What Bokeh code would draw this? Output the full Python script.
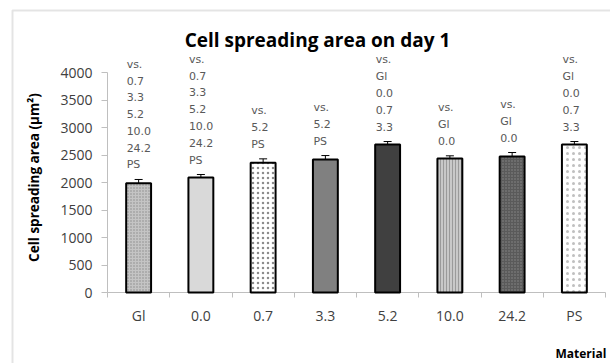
import math
from bokeh.plotting import figure
from bokeh.models import (ColumnDataSource, FixedTicker, Whisker, TeeHead, Label,
                          BoxAnnotation, Range1d)
from bokeh.embed import file_html
from bokeh.resources import INLINE
from bokeh.core.properties import value

# ---- data ----
categories = ["Gl", "0.0", "0.7", "3.3", "5.2", "10.0", "24.2", "PS"]
areas = [1985, 2090, 2360, 2420, 2690, 2435, 2475, 2690]
errors = [70, 55, 70, 70, 55, 50, 70, 55]
significance = [
    ["vs.", "0.7", "3.3", "5.2", "10.0", "24.2", "PS"],
    ["vs.", "0.7", "3.3", "5.2", "10.0", "24.2", "PS"],
    ["vs.", "5.2", "PS"],
    ["vs.", "5.2", "PS"],
    ["vs.", "Gl", "0.0", "0.7", "3.3"],
    ["vs.", "Gl", "0.0"],
    ["vs.", "Gl", "0.0"],
    ["vs.", "Gl", "0.0", "0.7", "3.3"],
]
title_text = "Cell spreading area on day 1"
y_label = "Cell spreading area (\u03bcm\u00b2)"
x_label = "Material"
y_ticks = [0, 500, 1000, 1500, 2000, 2500, 3000, 3500, 4000]
y_max = 4000

# ---- styles ----
fills = ["#c4c4c4", "#d9d9d9", "#ffffff", "#808080", "#404040", "#c8c8c8", "#5a5a5a", "#ffffff"]
hatches = [".", " ", ".", " ", " ", "|", ".", "."]
hatch_colors = ["#8a8a8a", "#000000", "#8c8c8c", "#000000", "#000000", "#9a9a9a", "#8a8a8a", "#c0c0c0"]
hatch_scales = [3, 1, 5, 1, 1, 3, 3, 6]
hatch_weights = [1.2, 1, 3, 1, 1, 1, 1.2, 1.5]

W, H = 610, 363
AX_L, AX_R, AX_T, AX_B = 107, 605, 72, 292  # axes area in canvas px

n = len(categories)

def dx(px):
    return (px - AX_L) / (AX_R - AX_L) * n

def dy(py):
    return (AX_B - py) / (AX_B - AX_T) * y_max

xc = [i + 0.5 for i in range(n)]
src = ColumnDataSource(dict(
    x=xc, top=areas, upper=[a + e for a, e in zip(areas, errors)],
    fill=fills, hatch=hatches, hcol=hatch_colors, hscale=hatch_scales, hw=hatch_weights,
    txt=["\n".join(s) for s in significance],
))

p = figure(width=W, height=H, output_backend="svg", toolbar_location=None,
           x_range=Range1d(dx(0), dx(W)), y_range=Range1d(dy(H), dy(0)),
           min_border=0)
p.outline_line_color = None
p.xgrid.visible = False
p.ygrid.visible = False
p.background_fill_color = "white"
p.border_fill_color = "white"

p.vbar(x="x", top="top", bottom=0, width=0.4, source=src,
       fill_color="fill", line_color="black", line_width=2,
       hatch_pattern="hatch", hatch_color="hcol", hatch_scale="hscale", hatch_weight="hw")

wh = Whisker(base="x", lower="top", upper="upper", source=src,
             line_color="black", line_width=1,
             upper_head=TeeHead(size=8, line_color="black", line_width=1),
             lower_head=None)
p.add_layout(wh)

p.text(x="x", y="upper", text="txt", source=src, x_offset=-12, y_offset=-8,
       text_align="left", text_baseline="bottom",
       text_font=value("DejaVu Sans"), text_font_size="11px",
       text_color="#595959", text_line_height=1.29)

# axes
ax = p.xaxis[0]
ax.level = "underlay"
ax.fixed_location = 0
ax.bounds = (0, n)
ax.ticker = FixedTicker(ticks=xc, minor_ticks=list(range(n + 1)))
ax.major_label_overrides = {x: c for x, c in zip(xc, categories)}
ax.major_tick_line_color = None
ax.major_tick_out = 5
ax.major_tick_in = 0
ax.minor_tick_line_color = "#bfbfbf"
ax.minor_tick_out = 5
ax.minor_tick_in = 0
ax.axis_line_color = "#bfbfbf"
ax.major_label_text_font = "Open Sans"
ax.major_label_text_font_size = "14px"
ax.major_label_text_color = "#404040"
ax.major_label_standoff = 8

ay = p.yaxis[0]
ay.level = "underlay"
ay.fixed_location = 0
ay.bounds = (0, y_max)
ay.ticker = FixedTicker(ticks=y_ticks, minor_ticks=[])
ay.axis_line_color = "#bfbfbf"
ay.major_tick_line_color = "#bfbfbf"
ay.major_tick_out = 6
ay.major_tick_in = 0
ay.minor_tick_line_color = None
ay.major_label_text_font = "Open Sans"
ay.major_label_text_font_size = "14px"
ay.major_label_text_color = "#404040"
ay.major_label_standoff = 9

p.add_layout(Label(x=dx(317), y=dy(39), text=title_text, text_align="center",
                   text_baseline="middle", text_font="Open Sans", text_font_style="bold",
                   text_font_size="19px", text_color="black"))
p.add_layout(Label(x=dx(33), y=dy(177), text=y_label, text_align="center",
                   text_baseline="middle", angle=math.pi / 2, text_font="Open Sans",
                   text_font_style="bold", text_font_size="13.5px", text_color="black"))
p.add_layout(Label(x=dx(555), y=dy(353), text=x_label, text_align="left",
                   text_baseline="middle", text_font="Open Sans",
                   text_font_style="bold", text_font_size="12px", text_color="black"))

p.add_layout(BoxAnnotation(left=dx(12), right=dx(W + 40), top=dy(10), bottom=dy(H + 40),
                           fill_alpha=0, line_color="#a6a6a6", line_width=2,
                           editable=False))

open("out.html", "w").write(file_html(p, INLINE))
